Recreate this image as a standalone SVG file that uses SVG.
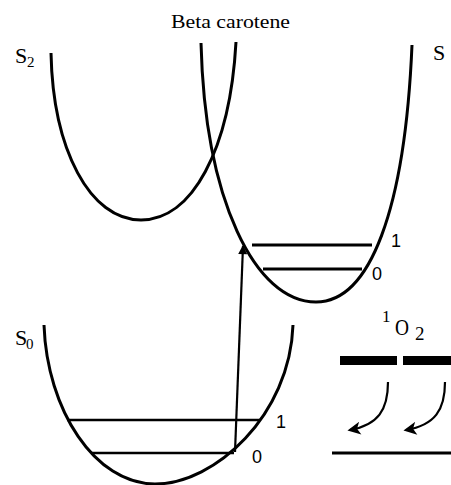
<svg xmlns="http://www.w3.org/2000/svg" width="451" height="485" viewBox="0 0 451 485">
<style>
.curve{fill:none;stroke:#000;stroke-width:3;stroke-linecap:butt}
.lvl{stroke:#000;stroke-width:3}
.lvl0{stroke:#000;stroke-width:2.5}
.serif{font-family:"Liberation Serif","Times New Roman",serif;fill:#000}
.sans{font-family:"Liberation Sans",Arial,sans-serif;fill:#000;font-size:18px}
.conn{fill:none;stroke:#000;stroke-width:2.2}
</style>
<defs>
<marker id="ah" viewBox="0 0 10 10" refX="9" refY="5" markerWidth="11" markerHeight="9" markerUnits="userSpaceOnUse" orient="auto">
<path d="M0,0 L10,5 L0,10 Z" fill="#000"/>
</marker>
<marker id="ah2" viewBox="0 0 10 10" refX="8" refY="5" markerWidth="14" markerHeight="13" markerUnits="userSpaceOnUse" orient="auto">
<path d="M0,0 L10,5 L0,10 L2.5,5 Z" fill="#000"/>
</marker>
</defs>
<rect width="451" height="485" fill="#fff"/>
<text class="serif" x="171" y="28" font-size="19" textLength="119" lengthAdjust="spacingAndGlyphs">Beta carotene</text>
<g id="S2">
<path class="curve" d="M51,53 C53,150 90,220 141,220 C192,220 230,150 236,42"/>
<text class="serif" x="15" y="63" font-size="22">S</text>
<text class="serif" x="27" y="67" font-size="15">2</text>
</g>
<g id="S1">
<path class="curve" d="M201,43 C205,200 255,302 316,302 C370,302 405,210 412,45"/>
<line class="lvl" x1="252" y1="245" x2="372" y2="245"/>
<line class="lvl" x1="263" y1="269" x2="362" y2="269"/>
<text class="sans" x="391" y="247">1</text>
<text class="sans" x="372" y="280">0</text>
<text class="serif" x="433" y="60" font-size="22">S</text>
</g>
<g id="S0">
<path class="curve" d="M44,325 C47,410 95,484 155,484 C215,484 290,415 293,325"/>
<line class="lvl0" x1="67" y1="420" x2="260" y2="420"/>
<line class="lvl0" x1="91" y1="453" x2="234" y2="453"/>
<text class="sans" x="276" y="428">1</text>
<text class="sans" x="252" y="463">0</text>
<text class="serif" x="15" y="345" font-size="22">S</text>
<text class="serif" x="26" y="349" font-size="15">0</text>
</g>
<g id="O2">
<text class="serif" x="382" y="322" font-size="17">1</text>
<text class="serif" x="395" y="335" font-size="24" textLength="14" lengthAdjust="spacingAndGlyphs">O</text>
<text class="serif" x="415" y="340" font-size="19">2</text>
<rect x="340" y="356" width="57" height="9" fill="#000"/>
<rect x="403" y="356" width="48" height="9" fill="#000"/>
<line x1="332" y1="453" x2="451" y2="453" stroke="#000" stroke-width="3"/>
</g>
<g id="connectors">
<line class="conn" x1="235" y1="452" x2="243" y2="246" marker-end="url(#ah)"/>
<path class="conn" stroke-width="2.5" d="M388,382 C388,410 378,425 350,430" marker-end="url(#ah2)"/>
<path class="conn" stroke-width="2.5" d="M445,382 C445,410 435,425 406,430" marker-end="url(#ah2)"/>
</g>
</svg>
